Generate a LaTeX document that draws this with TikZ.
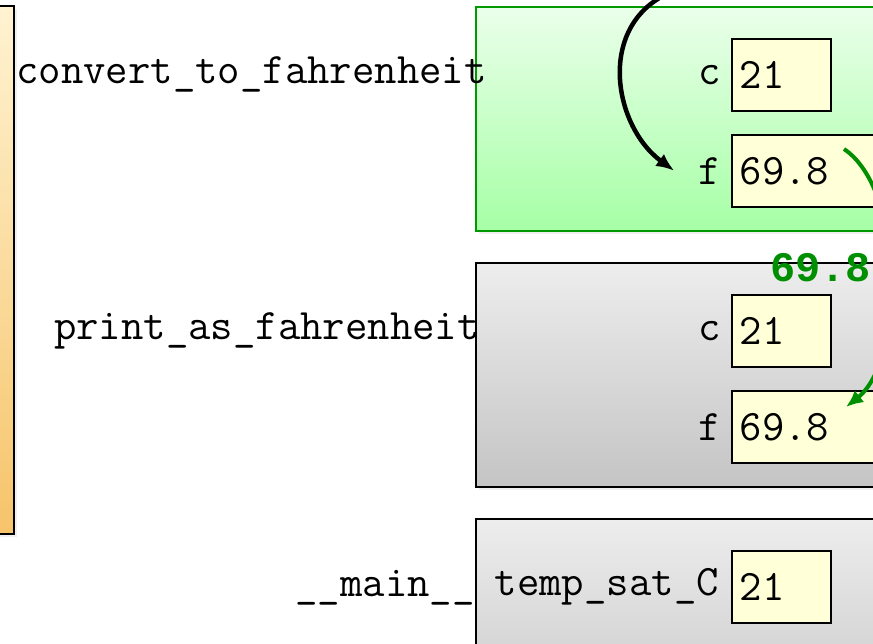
\documentclass[tikz,border=0pt]{standalone}
\usepackage{fontspec}
\newfontfamily\boldcode{Liberation Mono}
\usetikzlibrary{arrows.meta, positioning, shadows}

\definecolor{frameGreen}{HTML}{009900}
\definecolor{valYellow}{HTML}{FFFFD8}
\definecolor{argGreen}{HTML}{008F00}
\definecolor{globTop}{HTML}{FFF3D2}
\definecolor{globBottom}{HTML}{F6C46A}

\tikzset{
  codetext/.style={font=\ttfamily\fontsize{43.5}{50}\selectfont, inner sep=0pt},
  frame/.style={draw, line width=1.5pt, anchor=north west, minimum width=500pt, minimum height=224pt,
    inner sep=0pt, drop shadow={opacity=0.12, shadow xshift=3pt, shadow yshift=-3pt}},
  greyframe/.style={frame, top color=black!7, bottom color=black!23},
  valbox/.style={draw, line width=1.5pt, fill=valYellow, anchor=north west, minimum height=72pt,
    codetext, inner xsep=8pt, align=left},
}

\begin{document}
\begin{tikzpicture}[x=1pt, y=-1pt]
    \useasboundingbox (0,0) rectangle (873,643);
    \clip (0,0) rectangle (873,643);

    % global frame column on the left
    \node[draw, line width=1.5pt, anchor=north west, minimum width=30pt, minimum height=528pt,
      top color=globTop, bottom color=globBottom, drop shadow={opacity=0.12, shadow xshift=3pt, shadow yshift=-3pt}]
      (globals) at (-17,5) {};

    % stack frames
    \node[frame, draw=frameGreen, top color=green!8, bottom color=green!35] (convframe) at (475,6) {};
    \node[greyframe] (printframe) at (475,262) {};
    \node[greyframe] (mainframe) at (475,518) {};

    \node[codetext, anchor=base east] (convname) at (487,83) {convert\_to\_fahrenheit};
    \node[codetext, anchor=base east] (printname) at (480,339) {print\_as\_fahrenheit};
    \node[codetext, anchor=base east] (mainname) at (475,596) {\_\_main\_\_};

    % convert_to_fahrenheit
    \node[valbox, minimum width=99pt, text width=83pt] (convc) at (731,38) {21};
    \node[valbox, minimum width=160pt, text width=144pt] (convf) at (731,134) {69.8};
    \node[codetext, left=10pt of convc] (convclabel) {c};
    \node[codetext, left=10pt of convf] (convflabel) {f};

    % print_as_fahrenheit
    \node[valbox, minimum width=99pt, text width=83pt] (printc) at (731,294) {21};
    \node[valbox, minimum width=160pt, text width=144pt] (printf) at (731,390) {69.8};
    \node[codetext, left=10pt of printc] (printclabel) {c};
    \node[codetext, left=10pt of printf] (printflabel) {f};

    % __main__
    \node[valbox, minimum width=99pt, text width=83pt] (maint) at (731,550) {21};
    \node[codetext, left=12pt of maint] (maintlabel) {temp\_sat\_C};

    % returned value
    \node[codetext, font=\boldcode\bfseries\fontsize{42}{48}\selectfont, text=argGreen, anchor=base west]
      (retval) at (770,281) {69.8};

    % call and return arrows
    \coordinate (callstart) at (676,-10);
    \coordinate (retstart) at (844,149);
    \coordinate (retend) at (846,407);
    \draw[line width=4.5pt, -{Latex[length=18pt, width=15pt]}]
      (callstart) .. controls (595,20) and (612,125) .. ([xshift=-24pt]convflabel.west);
    \draw[argGreen, line width=4pt, -{Latex[length=17pt, width=15pt]}]
      (retstart) .. controls (905,190) and (905,360) .. (retend);
\end{tikzpicture}
\end{document}
